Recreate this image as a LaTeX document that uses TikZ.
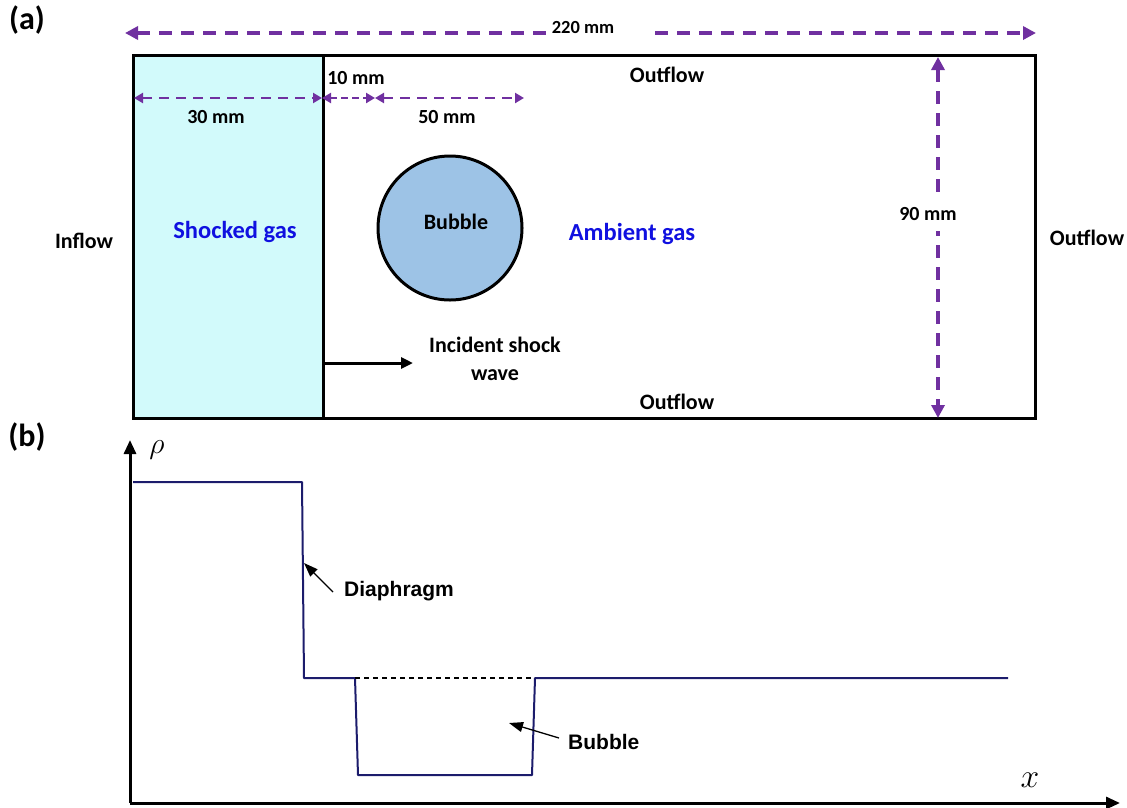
\documentclass[tikz,border=0pt]{standalone}
\usepackage{fontspec}
\setmainfont{Carlito}
\newfontfamily\arialf{Liberation Sans}
\usetikzlibrary{arrows.meta}
\definecolor{dimc}{HTML}{7030A0}
\definecolor{shockc}{HTML}{D2FAFB}
\definecolor{bubc}{HTML}{9DC3E6}
\definecolor{navyc}{HTML}{1C1C6C}
\definecolor{gasblue}{HTML}{1010E0}
\begin{document}
\begin{tikzpicture}[x=1pt,y=-1pt,
  dimline/.style={draw=dimc, line width=3.6pt, dash pattern=on 13pt off 9pt},
  bigtip/.style={-{Triangle[length=13pt,width=13pt]}},
  bigboth/.style={{Triangle[length=13pt,width=13pt]}-{Triangle[length=13pt,width=13pt]}},
  smalldim/.style={draw=dimc, line width=2.8pt, dash pattern=on 10pt off 7pt, {Triangle[length=9pt,width=10pt]}-{Triangle[length=9pt,width=10pt]}},
  lbl/.style={font=\bfseries\fontsize{22}{26}\selectfont, inner sep=1pt},
  dlbl/.style={font=\bfseries\fontsize{20}{24}\selectfont, inner sep=1pt},
  gaslbl/.style={font=\bfseries\fontsize{24.5}{28}\selectfont, text=gasblue, inner sep=1pt},
  panel/.style={font=\bfseries\fontsize{32}{36}\selectfont, inner sep=0pt},
  alabel/.style={font=\arialf\bfseries\fontsize{21}{25}\selectfont, inner sep=1pt},
  curve/.style={draw=navyc, line width=2pt, line join=round},
  axis/.style={line width=3pt, -{Triangle[length=14pt,width=12pt]}},
  pointer/.style={line width=1.3pt, -{Triangle[length=14pt,width=10pt]}}
]
\useasboundingbox (0,0) rectangle (1127,807);

% ---------- (a) ----------
\node[panel] (pa) at (27,20) {(a)};
\fill[shockc] (133,55) rectangle (323,418);
\draw[line width=3pt] (133,55) rectangle (1035,418);
\coordinate (dtop) at (323,55);
\coordinate (dbot) at (323,418);
\draw[line width=3pt] (dtop) -- (dbot);

% 220 mm
\node[font=\bfseries\fontsize{18.5}{22}\selectfont, inner sep=1pt] (l220) at (583,27) {220 mm};
\coordinate (w220a) at (125,33);
\coordinate (w220b) at (548,33);
\coordinate (w220c) at (655,33);
\coordinate (w220d) at (1036,33);
\draw[dimline, {Triangle[length=13pt,width=13pt]}-] (w220a) -- (w220b);
\draw[dimline, bigtip] (w220c) -- (w220d);

% 30, 10, 50 mm
\coordinate (d30a) at (134,98);
\coordinate (d30b) at (322,98);
\coordinate (d10b) at (375,98);
\coordinate (d50b) at (524,98);
\draw[smalldim] (d30a) -- (d30b);
\draw[smalldim, dash pattern=on 7pt off 4pt] (d30b) -- (d10b);
\draw[smalldim] (d10b) -- (d50b);
\node[dlbl] (l30) at (216,117) {30 mm};
\node[dlbl] (l10) at (356,78) {10 mm};
\node[dlbl] (l50) at (447,117) {50 mm};

% 90 mm
\coordinate (d90a) at (938,57);
\coordinate (d90b) at (938,418);
\draw[dimline, bigboth] (d90a) -- (d90b);
\node[dlbl, fill=white, inner xsep=2pt, inner ysep=10pt] (l90) at (928,214) {90 mm};

% labels
\node[lbl] (outT) at (667,75) {Outflow};
\node[lbl] (outB) at (677,402) {Outflow};
\node[lbl] (outR) at (1087,238) {Outflow};
\node[lbl] (inflow) at (84,241) {Inflow};
\node[gaslbl] (shock) at (235,232) {Shocked gas};
\node[gaslbl] (amb) at (632,234) {Ambient gas};

% bubble
\node[circle, draw, line width=3pt, fill=bubc, minimum size=144pt, inner sep=0pt] (bub) at (450,228) {};
\node[lbl] (bubl) at (456,222) {Bubble};

% incident shock
\coordinate (shs) at (323,363);
\coordinate (she) at (413,363);
\draw[line width=3pt, -{Triangle[length=12pt,width=11pt]}] (shs) -- (she);
\node[lbl, align=center, font=\bfseries\fontsize{22}{28}\selectfont] (incl) at (495,359) {Incident shock\\wave};

% ---------- (b) ----------
\node[panel] (pb) at (27,437) {(b)};
\coordinate (org) at (130,803);
\coordinate (ytop) at (130,440);
\coordinate (xend) at (1120,803);
\draw[axis] (org) -- (ytop);
\draw[axis] (org) -- (xend);
\node[font=\fontsize{24}{28}\selectfont] (rho) at (157,450) {\scalebox{1.2}{$\rho$}};
\node[font=\fontsize{24}{28}\selectfont] (xl) at (1030,780) {\scalebox{1.35}{$x$}};

\coordinate (c0) at (133,482);
\coordinate (c1) at (302,482);
\coordinate (c2) at (304,678);
\coordinate (c3) at (355,678);
\coordinate (c4) at (358,775);
\coordinate (c5) at (532,775);
\coordinate (c6) at (535,678);
\coordinate (c7) at (1008,678);
\draw[curve] (c0) -- (c1) -- (c2) -- (c3) -- (c4) -- (c5) -- (c6) -- (c7);
\draw[line width=1.3pt, dash pattern=on 5pt off 4pt] (c3) -- (c6);

\node[alabel, anchor=west] (diaph) at (343,591) {Diaphragm};
\coordinate (dtail) at (333,592);
\coordinate (dtip) at (304,563);
\draw[pointer] (dtail) -- (dtip);

\node[alabel, anchor=west] (bubb) at (567,742) {Bubble};
\coordinate (btail) at (559,738);
\coordinate (btip) at (509,723);
\draw[pointer] (btail) -- (btip);

\end{tikzpicture}
\end{document}
